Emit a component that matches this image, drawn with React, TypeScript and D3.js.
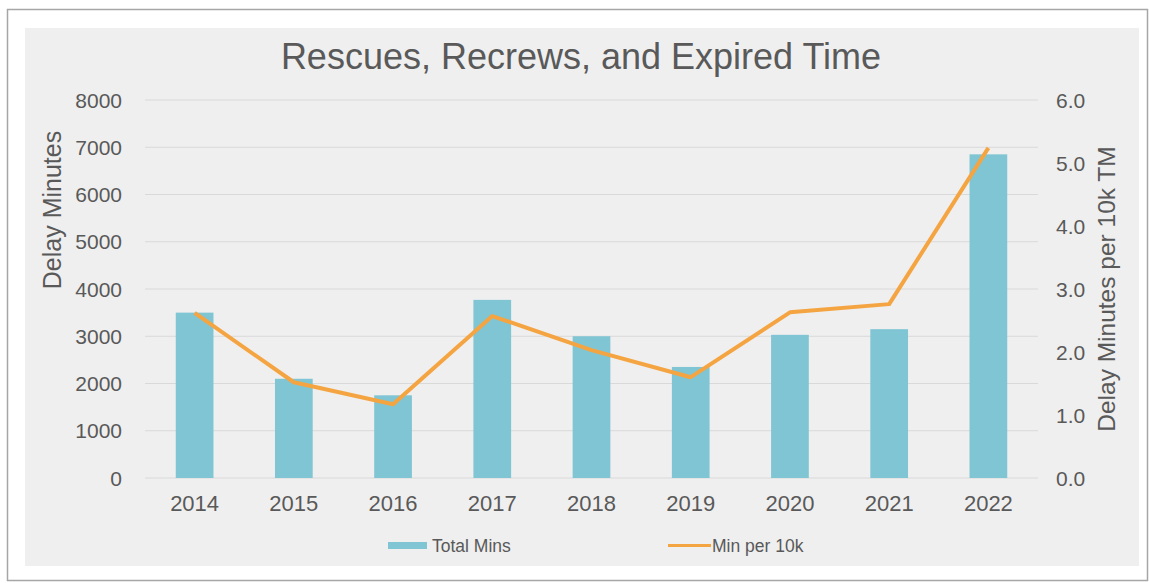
import React from "react";
import * as d3 from "d3";

const years = ["2014", "2015", "2016", "2017", "2018", "2019", "2020", "2021", "2022"];
const totalMins = [3500, 2100, 1750, 3770, 3000, 2350, 3030, 3150, 6850];
const minPer10k = [2.62, 1.52, 1.17, 2.57, 2.03, 1.6, 2.63, 2.76, 5.24];
const leftTicks = [0, 1000, 2000, 3000, 4000, 5000, 6000, 7000, 8000];
const rightTicks = [0, 1, 2, 3, 4, 5, 6];

const W = 1149;
const H = 583;
const plot = { left: 145, right: 1038, top: 100, bottom: 478 };
const font = "'Liberation Sans', Arial, sans-serif";
const textColor = "#595959";

export default function App() {
  const x = d3.scaleBand<string>().domain(years).range([plot.left, plot.right]).paddingInner(0.62).paddingOuter(0.31);
  const yL = d3.scaleLinear().domain([0, 8000]).range([plot.bottom, plot.top]);
  const yR = d3.scaleLinear().domain([0, 6]).range([plot.bottom, plot.top]);
  const line = d3
    .line<number>()
    .x((_, i) => (x(years[i]) as number) + x.bandwidth() / 2)
    .y((d) => yR(d));

  return (
    <svg width={W} height={H} style={{ position: "absolute", left: 0, top: 0 }} fontFamily={font}>
      <rect x={0} y={0} width={W} height={H} fill="#ffffff" />
      <rect x={7.5} y={9.5} width={1140} height={571} fill="#ffffff" stroke="#a6a6a6" strokeWidth={1.5} />
      <rect x={25} y={28} width={1114} height={538} fill="#efefef" />
      <text x={581} y={69} textAnchor="middle" fontSize={36} fill={textColor}>
        Rescues, Recrews, and Expired Time
      </text>
      {leftTicks.map((t) => (
        <g key={"l" + t}>
          <line x1={plot.left} x2={plot.right} y1={yL(t)} y2={yL(t)} stroke="#d9d9d9" strokeWidth={1.2} />
          <text x={122} y={yL(t) + 7.5} textAnchor="end" fontSize={21} fill={textColor}>
            {t}
          </text>
        </g>
      ))}
      {rightTicks.map((t) => (
        <text key={"r" + t} x={1056} y={yR(t) + 7.5} textAnchor="start" fontSize={21} fill={textColor}>
          {t.toFixed(1)}
        </text>
      ))}
      {years.map((yr, i) => (
        <g key={yr}>
          <rect
            x={x(yr) as number}
            y={yL(totalMins[i])}
            width={x.bandwidth()}
            height={plot.bottom - yL(totalMins[i])}
            fill="#7fc5d3"
          />
          <text x={(x(yr) as number) + x.bandwidth() / 2} y={511} textAnchor="middle" fontSize={22} fill={textColor}>
            {yr}
          </text>
        </g>
      ))}
      <path d={line(minPer10k) || ""} fill="none" stroke="#f5a442" strokeWidth={4} strokeLinejoin="round" />
      <text transform="translate(61,210) rotate(-90)" textAnchor="middle" fontSize={25} fill={textColor}>
        Delay Minutes
      </text>
      <text transform="translate(1115,289) rotate(-90)" textAnchor="middle" fontSize={24.5} fill={textColor}>
        Delay Minutes per 10k TM
      </text>
      <rect x={388} y={542} width={39} height={7} fill="#7fc5d3" />
      <text x={432} y={552} fontSize={17.5} fill={textColor}>
        Total Mins
      </text>
      <line x1={668} x2={711} y1={545.5} y2={545.5} stroke="#f5a442" strokeWidth={3} />
      <text x={712} y={552} fontSize={17.5} fill={textColor}>
        Min per 10k
      </text>
    </svg>
  );
}
